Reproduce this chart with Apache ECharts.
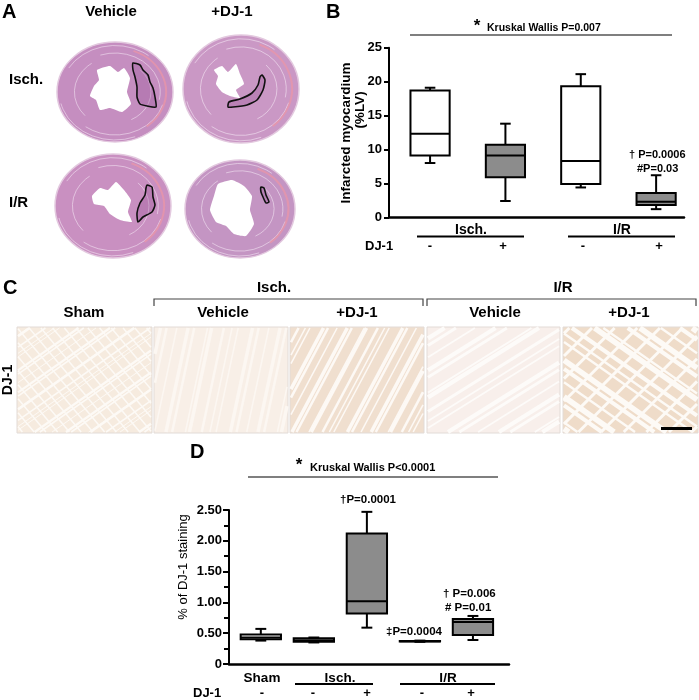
<!DOCTYPE html>
<html>
  <head>
    <meta charset="UTF-8" />
    <title>DJ-1 infarct and staining</title>
    <style>
      html, body { margin: 0; padding: 0; background: #fff; }
      #fig { width: 699px; height: 700px; }
    </style>
    <script src="https://cdn.jsdelivr.net/npm/echarts@6/dist/echarts.min.js"></script>
  </head>
  <body>
    <div id="fig"></div>
    <script>
      // panel B: infarcted myocardium (%LV), [min, Q1, median, Q3, max]
      const bGroups = ['Isch. -', 'Isch. +', 'I/R -', 'I/R +'];
      const bStats = [
        [8.0, 9.1, 12.3, 18.7, 19.1],
        [2.4, 5.9, 9.1, 10.7, 13.8],
        [4.4, 4.9, 8.3, 19.3, 21.1],
        [1.2, 1.8, 2.3, 3.6, 6.2]
      ];
      const bFill = ['#ffffff', '#8c8c8c', '#ffffff', '#8c8c8c'];

      // panel D: % of DJ-1 staining
      const dGroups = ['Sham', 'Isch. -', 'Isch. +', 'I/R -', 'I/R +'];
      const dStats = [
        [0.38, 0.40, 0.43, 0.48, 0.57],
        [0.35, 0.36, 0.38, 0.42, 0.43],
        [0.59, 0.82, 1.02, 2.12, 2.47],
        [0.36, 0.365, 0.37, 0.375, 0.38],
        [0.39, 0.47, 0.68, 0.73, 0.78]
      ];
      const dFill = ['#ffffff', '#8c8c8c', '#8c8c8c', '#8c8c8c', '#8c8c8c'];

      const bTicks = [0, 5, 10, 15, 20, 25];
      const dTicks = ['0', '0.50', '1.00', '1.50', '2.00', '2.50'];

      const FONT = '"Liberation Sans", Arial, sans-serif';
      const chart = echarts.init(document.getElementById('fig'), null, { renderer: 'canvas' });

      function txt(s, x, y, size, opts) {
        opts = opts || {};
        return {
          type: 'text', x: x, y: y, rotation: opts.rot || 0, z: 10,
          style: {
            text: s,
            font: (opts.weight || 'bold') + ' ' + size + 'px ' + FONT,
            fill: opts.color || '#000',
            textAlign: opts.align || 'center', align: opts.align || 'center',
            textVerticalAlign: 'middle', verticalAlign: 'middle'
          }
        };
      }
      function seg(x1, y1, x2, y2, w, c) {
        return { type: 'line', z: 10, shape: { x1: x1, y1: y1, x2: x2, y2: y2 },
          style: { stroke: c || '#000', lineWidth: w || 1 } };
      }

      // ---- panel A: stained heart sections (decoration) ----
      const hearts = [
        { cx: 115, cy: 92, rx: 58, ry: 50, fill: '#c58ec0',
          lumen: [[97,70],[110,66],[118,72],[124,68],[130,78],[127,92],[131,104],[122,112],[110,108],[100,110],[96,100],[90,96],[94,86],[99,80]],
          infarct: [[133,63],[140,65],[143,70],[148,75],[150,82],[153,88],[155,97],[156,107],[147,106],[140,104],[137,97],[137,87],[135,77],[133,70]] },
        { cx: 241, cy: 89, rx: 58, ry: 54, fill: '#ca98c5',
          lumen: [[214,70],[222,66],[228,72],[236,64],[240,74],[244,84],[236,90],[240,98],[230,96],[222,92],[216,84],[218,76]],
          infarct: [[262,75],[265,80],[263,90],[257,100],[247,105],[233,107],[228,107],[229,102],[240,99],[252,93],[258,85],[260,77]] },
        { cx: 113, cy: 206, rx: 58, ry: 52, fill: '#c990c1',
          lumen: [[92,196],[100,188],[108,190],[116,182],[124,190],[131,200],[128,212],[132,222],[120,220],[110,214],[104,206],[94,204]],
          infarct: [[147,185],[152,187],[153,197],[155,205],[152,212],[143,217],[138,222],[137,213],[140,203],[145,195],[146,188]] },
        { cx: 240, cy: 209, rx: 55, ry: 49, fill: '#c495c3',
          lumen: [[218,184],[232,180],[244,186],[252,196],[250,210],[254,224],[246,236],[234,234],[226,226],[216,222],[210,210],[214,196]],
          infarct: [[261,187],[264,188],[266,195],[269,202],[266,203],[263,197],[261,192]] }
      ];
      const ringArcs = [[0.93, -2.6, -0.9], [0.86, 0.3, 2.2], [0.78, -1.9, 0.2], [0.7, 2.4, 4.1], [0.62, -0.8, 1.1], [0.96, 1.2, 2.9]];
      const heartEls = [];
      hearts.forEach(function (h) {
        heartEls.push({ type: 'circle', x: h.cx, y: h.cy, scaleY: h.ry / h.rx,
          shape: { cx: 0, cy: 0, r: h.rx }, style: { fill: h.fill, stroke: '#e3c9df', lineWidth: 1.5 } });
        ringArcs.forEach(function (r) {
          heartEls.push({ type: 'arc', x: h.cx, y: h.cy, scaleY: h.ry / h.rx,
            shape: { cx: 0, cy: 0, r: h.rx * r[0], startAngle: r[1], endAngle: r[2] },
            style: { fill: 'none', stroke: 'rgba(250,240,250,0.55)', lineWidth: 1 } });
        });
        heartEls.push({ type: 'arc', x: h.cx, y: h.cy, scaleY: h.ry / h.rx,
          shape: { cx: 0, cy: 0, r: h.rx * 0.88, startAngle: -1.2, endAngle: 0.9 },
          style: { fill: 'none', stroke: 'rgba(236,150,165,0.7)', lineWidth: 2 } });
        heartEls.push({ type: 'polygon', shape: { points: h.lumen, smooth: 0.15 }, style: { fill: '#ffffff' } });
        heartEls.push({ type: 'polygon', shape: { points: h.infarct, smooth: 0.2 },
          style: { fill: 'rgba(150,80,150,0.3)', stroke: '#111', lineWidth: 1.6 } });
      });

      // ---- panel C: DJ-1 immunostaining tiles (decoration) ----
      const tiles = [
        { x: 17, w: 135, fill: '#f6ebdf', streak: '#fdfaf6', ang: -35, gap: 6, lw: 1.6 },
        { x: 154, w: 134, fill: '#f8efe7', streak: '#fcf7f2', ang: -78, gap: 9, lw: 2.5 },
        { x: 290, w: 134, fill: '#f0dfcf', streak: '#fdf9f5', ang: -62, gap: 7, lw: 2.6 },
        { x: 427, w: 133, fill: '#f8efeb', streak: '#fdfbf9', ang: -32, gap: 9, lw: 3 },
        { x: 563, w: 135, fill: '#efdcc9', streak: '#fdfaf6', ang: 35, gap: 10, lw: 4 }
      ];
      const gapJitter = [0, 2, -1, 3, -2, 1, 0, -3, 2, -1];
      const tileY = 327, tileH = 106;
      function clipLine(x0, y0, dx, dy, rx, ry, rw, rh) {
        let t0 = -1e4, t1 = 1e4;
        const p = [-dx, dx, -dy, dy], q = [x0 - rx, rx + rw - x0, y0 - ry, ry + rh - y0];
        for (let i = 0; i < 4; i++) {
          if (p[i] === 0) { if (q[i] < 0) return null; continue; }
          const r = q[i] / p[i];
          if (p[i] < 0) t0 = Math.max(t0, r); else t1 = Math.min(t1, r);
        }
        if (t0 >= t1) return null;
        return [x0 + t0 * dx, y0 + t0 * dy, x0 + t1 * dx, y0 + t1 * dy];
      }
      const tileEls = [];
      tiles.forEach(function (t, ti) {
        tileEls.push({ type: 'rect', shape: { x: t.x, y: tileY, width: t.w, height: tileH },
          style: { fill: t.fill, stroke: '#e2dbd7', lineWidth: 1 } });
        const a = t.ang * Math.PI / 180, dx = Math.cos(a), dy = Math.sin(a);
        const cx = t.x + t.w / 2, cy = tileY + tileH / 2;
        for (let k = -16; k <= 16; k++) {
          const j = gapJitter[(k + 16) % gapJitter.length];
          const d = k * t.gap + j;
          const s = clipLine(cx - dy * d, cy + dx * d, dx, dy, t.x + 1, tileY + 1, t.w - 2, tileH - 2);
          if (!s) continue;
          tileEls.push({ type: 'line', shape: { x1: s[0], y1: s[1], x2: s[2], y2: s[3] },
            style: { stroke: t.streak, lineWidth: t.lw * (0.6 + (Math.abs(j) % 3) * 0.4) } });
        }
        if (ti === 0 || ti === 4) {
          const a2 = (ti === 0 ? 50 : -45) * Math.PI / 180, ex = Math.cos(a2), ey = Math.sin(a2);
          const g = ti === 0 ? 9 : 16;
          for (let k = -10; k <= 10; k++) {
            const s = clipLine(cx - ey * k * g, cy + ex * k * g, ex, ey, t.x + 1, tileY + 1, t.w - 2, tileH - 2);
            if (s) tileEls.push({ type: 'line', shape: { x1: s[0], y1: s[1], x2: s[2], y2: s[3] },
              style: { stroke: '#fdfaf6', lineWidth: ti === 0 ? 1.5 : 3 } });
          }
        }
      });
      tileEls.push({ type: 'rect', z: 10, shape: { x: 661, y: 427, width: 31, height: 3 }, style: { fill: '#000' } });

      const labels = [
        txt('A', 2, 12, 20, { align: 'left' }),
        txt('Vehicle', 111, 12, 15), txt('+DJ-1', 232, 12, 15),
        txt('Isch.', 9, 80, 15, { align: 'left' }), txt('I/R', 9, 203, 15, { align: 'left' }),
        txt('B', 326, 12, 20, { align: 'left' }),
        txt('*', 477, 26, 17), txt('Kruskal Wallis P=0.007', 487, 28, 10.5, { align: 'left' }),
        seg(410, 35, 672, 35, 1.2),
        txt('Infarcted myocardium', 346, 133, 13.5, { rot: Math.PI / 2 }),
        txt('(%LV)', 360, 110, 13.5, { rot: Math.PI / 2 }),
        txt('\u2020 P=0.0006', 629, 155, 11, { align: 'left' }),
        txt('#P=0.03', 637, 169, 11, { align: 'left' }),
        txt('Isch.', 471, 230, 14), seg(417, 236.5, 524, 236.5, 2),
        txt('I/R', 622, 230, 14), seg(568, 236.5, 675, 236.5, 2),
        txt('DJ-1', 365, 246, 13, { align: 'left' }),
        txt('-', 430, 246, 13), txt('+', 503, 246, 13), txt('-', 583, 246, 13), txt('+', 659, 246, 13),
        txt('C', 3, 288, 20, { align: 'left' }),
        txt('Isch.', 274, 288, 15), txt('I/R', 563, 288, 15),
        { type: 'polyline', shape: { points: [[154, 306], [154, 299], [423, 299], [423, 306]] }, style: { stroke: '#444', lineWidth: 1.2, fill: 'none' } },
        { type: 'polyline', shape: { points: [[427, 306], [427, 299], [696, 299], [696, 306]] }, style: { stroke: '#444', lineWidth: 1.2, fill: 'none' } },
        txt('Sham', 84, 313, 15), txt('Vehicle', 223, 313, 15), txt('+DJ-1', 357, 313, 15),
        txt('Vehicle', 495, 313, 15), txt('+DJ-1', 629, 313, 15),
        txt('DJ-1', 8, 380, 14, { rot: Math.PI / 2 }),
        txt('D', 190, 452, 20, { align: 'left' }),
        txt('*', 299, 465, 17), txt('Kruskal Wallis P<0.0001', 310, 468, 11, { align: 'left' }),
        seg(248, 477, 498, 477, 1.2),
        txt('% of DJ-1 staining', 183, 567, 13, { rot: Math.PI / 2, weight: 'normal' }),
        txt('\u2020P=0.0001', 368, 500, 11.5),
        txt('\u2020 P=0.006', 443, 594, 11.5, { align: 'left' }),
        txt('# P=0.01', 445, 608, 11.5, { align: 'left' }),
        txt('\u2021P=0.0004', 386, 632, 11.5, { align: 'left' }),
        txt('Sham', 262, 678, 13.5), txt('Isch.', 340, 678, 13.5), seg(295, 684, 373, 684, 2),
        txt('I/R', 448, 678, 13.5), seg(400, 684, 495, 684, 2),
        txt('DJ-1', 193, 693, 13, { align: 'left' }),
        txt('-', 262, 693, 13), txt('-', 313, 693, 13), txt('+', 367, 693, 13),
        txt('-', 422, 693, 13), txt('+', 471, 693, 13)
      ];

      function boxRender(stats, fills, boxW) {
        return function (params, api) {
          const x = api.value(0);
          const pMin = api.coord([x, api.value(1)]);
          const pQ1 = api.coord([x, api.value(2)]);
          const pMed = api.coord([x, api.value(3)]);
          const pQ3 = api.coord([x, api.value(4)]);
          const pMax = api.coord([x, api.value(5)]);
          const half = api.size([boxW, 0])[0] / 2;
          const cap = half * 0.27;
          const cx = pMed[0];
          const ln = { stroke: '#000', lineWidth: 2 };
          return {
            type: 'group',
            children: [
              { type: 'line', shape: { x1: cx, y1: pMax[1], x2: cx, y2: pQ3[1] }, style: ln },
              { type: 'line', shape: { x1: cx, y1: pQ1[1], x2: cx, y2: pMin[1] }, style: ln },
              { type: 'line', shape: { x1: cx - cap, y1: pMax[1], x2: cx + cap, y2: pMax[1] }, style: ln },
              { type: 'line', shape: { x1: cx - cap, y1: pMin[1], x2: cx + cap, y2: pMin[1] }, style: ln },
              { type: 'rect', shape: { x: cx - half, y: pQ3[1], width: half * 2, height: pQ1[1] - pQ3[1] },
                style: { fill: fills[params.dataIndex], stroke: '#000', lineWidth: 2 } },
              { type: 'line', shape: { x1: cx - half, y1: pMed[1], x2: cx + half, y2: pMed[1] }, style: ln }
            ]
          };
        };
      }

      const axisLbl = { color: '#000', fontWeight: 'bold', fontSize: 13, fontFamily: FONT, margin: 7 };
      const option = {
        animation: false,
        backgroundColor: '#fff',
        graphic: heartEls.concat(tileEls, labels),
        grid: [
          { left: 389, right: 15, top: 47.7, bottom: 482.7 },
          { left: 229, right: 190, top: 510, bottom: 36 }
        ],
        xAxis: [
          { gridIndex: 0, type: 'value', min: 0.455, max: 4.37,
            axisLine: { onZero: false, lineStyle: { color: '#000', width: 2.5 } },
            axisTick: { show: false }, axisLabel: { show: false }, splitLine: { show: false } },
          { gridIndex: 1, type: 'value', min: 0.4, max: 5.68,
            axisLine: { onZero: false, lineStyle: { color: '#000', width: 2.5 } },
            axisTick: { show: false }, axisLabel: { show: false }, splitLine: { show: false } }
        ],
        yAxis: [
          { gridIndex: 0, type: 'value', min: 0, max: 25, interval: 5,
            axisLine: { show: true, onZero: false, lineStyle: { color: '#000', width: 2 } },
            axisTick: { show: true, length: 5, lineStyle: { color: '#000', width: 2 } },
            axisLabel: Object.assign({}, axisLbl, { formatter: function (v) { return String(bTicks[Math.round(v / 5)]); } }),
            splitLine: { show: false } },
          { gridIndex: 1, type: 'value', min: 0, max: 2.5, interval: 0.5,
            axisLine: { show: true, onZero: false, lineStyle: { color: '#000', width: 2 } },
            axisTick: { show: true, length: 6, lineStyle: { color: '#000', width: 2 } },
            minorTick: { show: true, splitNumber: 2, length: 5, lineStyle: { color: '#000', width: 2 } },
            axisLabel: Object.assign({}, axisLbl, { formatter: function (v) { return dTicks[Math.round(v / 0.5)]; } }),
            splitLine: { show: false } }
        ],
        series: [
          { type: 'custom', name: 'infarct', xAxisIndex: 0, yAxisIndex: 0,
            renderItem: boxRender(bStats, bFill, 0.52),
            encode: { x: 0, y: [1, 2, 3, 4, 5] },
            data: bStats.map(function (s, i) { return [i + 1].concat(s); }) },
          { type: 'custom', name: 'staining', xAxisIndex: 1, yAxisIndex: 1,
            renderItem: boxRender(dStats, dFill, 0.76),
            encode: { x: 0, y: [1, 2, 3, 4, 5] },
            data: dStats.map(function (s, i) { return [i + 1].concat(s); }) }
        ]
      };
      chart.setOption(option);
    </script>
  </body>
</html>
